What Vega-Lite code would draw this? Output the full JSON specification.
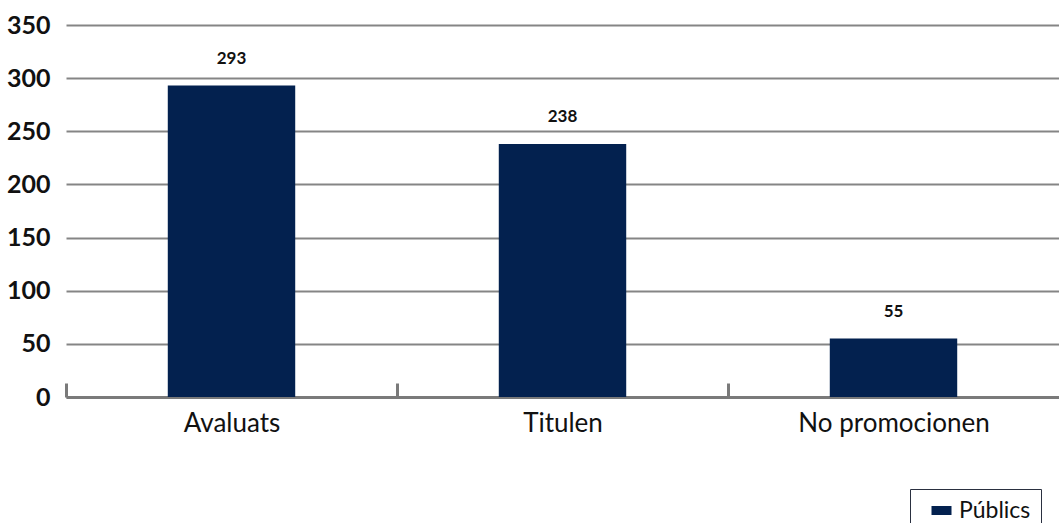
{
  "$schema": "https://vega.github.io/schema/vega-lite/v6.json",
  "width": 993,
  "height": 372,
  "autosize": {"type": "none"},
  "padding": {"left": 66, "top": 25, "right": 0, "bottom": 126},
  "background": "white",
  "config": {
    "view": {"stroke": null},
    "font": "Lato"
  },
  "data": {
    "values": [
      {"categoria": "Avaluats", "valor": 293, "serie": "Públics"},
      {"categoria": "Titulen", "valor": 238, "serie": "Públics"},
      {"categoria": "No promocionen", "valor": 55, "serie": "Públics"}
    ]
  },
  "encoding": {
    "x": {
      "field": "categoria",
      "type": "nominal",
      "sort": null,
      "scale": {"paddingInner": 0.615, "paddingOuter": 0.3075},
      "axis": {
        "title": null,
        "labelAngle": 0,
        "labelFont": "Lato",
        "labelFontSize": 26,
        "labelLimit": 0,
        "labelColor": "#111",
        "labelPadding": 27,
        "domainColor": "#7a7a7a",
        "domainWidth": 3,
        "tickOffset": -165.5,
        "labelOffset": 165.5,
        "tickColor": "#7a7a7a",
        "tickWidth": 3,
        "tickSize": -14,
        "grid": false
      }
    },
    "y": {
      "field": "valor",
      "type": "quantitative",
      "scale": {"domain": [0, 350], "nice": false},
      "axis": {
        "title": null,
        "values": [0, 50, 100, 150, 200, 250, 300, 350],
        "labelFont": "Lato",
        "labelFontWeight": "bold",
        "labelFontSize": 25,
        "labelColor": "#111",
        "labelPadding": 16,
        "ticks": false,
        "domain": false,
        "grid": true,
        "gridColor": "#858585",
        "gridWidth": 2
      }
    }
  },
  "layer": [
    {
      "mark": {"type": "bar", "color": "#03214f"},
      "encoding": {
        "color": {
          "field": "serie",
          "type": "nominal",
          "scale": {"range": ["#03214f"]},
          "legend": {
            "title": null,
            "orient": "none",
            "legendX": 844,
            "legendY": 464,
            "symbolType": "M-1,-0.45H1V0.45H-1Z",
            "symbolSize": 400,
            "symbolStrokeWidth": 0,
            "symbolOffset": 10,
            "labelFont": "Lato",
            "labelFontSize": 23,
            "labelColor": "#111",
            "labelOffset": 6,
            "strokeColor": "#2a3040",
            "padding": 10,
            "fillColor": "white"
          }
        }
      }
    },
    {
      "mark": {"type": "text", "dy": -18, "baseline": "bottom", "fontSize": 17, "fontWeight": "bold", "font": "Lato", "color": "#111"},
      "encoding": {"text": {"field": "valor", "type": "quantitative"}}
    }
  ]
}
